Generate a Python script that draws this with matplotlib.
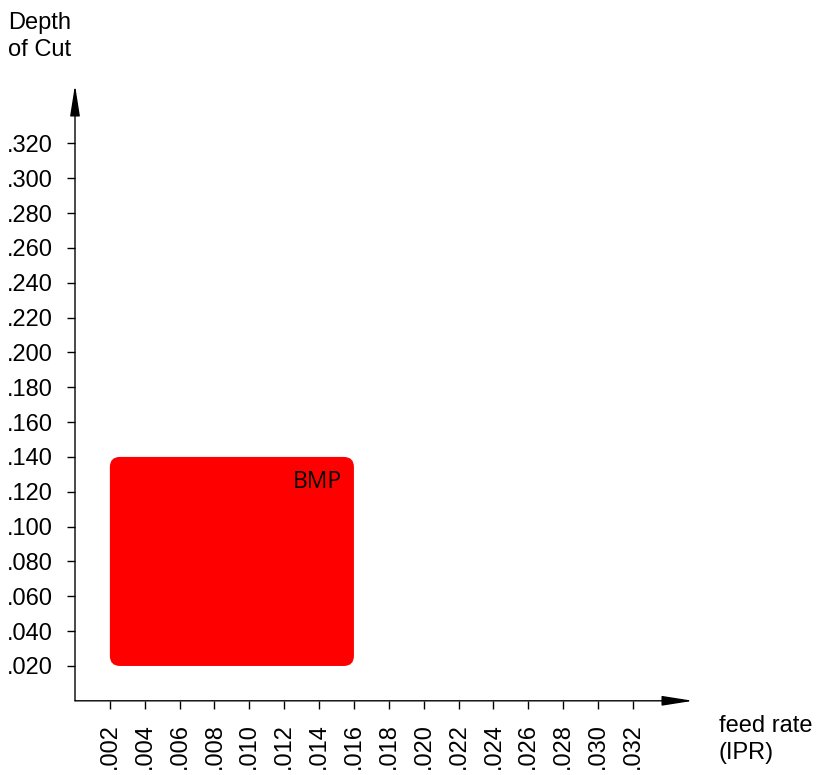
import matplotlib.pyplot as plt
from matplotlib.patches import FancyBboxPatch

plt.rcParams["font.family"] = ["Liberation Sans", "DejaVu Sans"]

# feed rate (IPR) ticks and depth-of-cut ticks
feed_ticks = [0.002, 0.004, 0.006, 0.008, 0.010, 0.012, 0.014, 0.016,
              0.018, 0.020, 0.022, 0.024, 0.026, 0.028, 0.030, 0.032]
depth_ticks = [0.020, 0.040, 0.060, 0.080, 0.100, 0.120, 0.140, 0.160,
               0.180, 0.200, 0.220, 0.240, 0.260, 0.280, 0.300, 0.320]

# BMP region: feed range and depth range
region_name = "BMP"
region_feed = [0.002, 0.016]
region_depth = [0.020, 0.140]

xmax = 0.03545
ymax = 0.3535

W, H = 825, 775
fig = plt.figure(figsize=(W / 100, H / 100), dpi=100)
ax = fig.add_axes([75 / W, (H - 700.8) / H, (693 - 75) / W, (700.8 - 85) / H])
ax.set_xlim(0, xmax)
ax.set_ylim(0, ymax)

for s in ax.spines.values():
    s.set_visible(False)

def fmt(v):
    return ("%.3f" % v)[1:]

ax.set_xticks(feed_ticks)
ax.set_xticklabels([fmt(v) for v in feed_ticks], rotation=90, fontsize=17)
ax.set_yticks(depth_ticks)
ax.set_yticklabels([fmt(v) for v in depth_ticks], fontsize=17)
ax.tick_params(direction="out", length=6, width=1, color="black", pad=10)

# axis arrows
arrow = dict(arrowstyle="-|>,head_length=0.95,head_width=0.15", color="black",
             lw=1, mutation_scale=20, shrinkA=0, shrinkB=0)
ax.annotate("", xy=(1, 0), xytext=(0, 0), xycoords="axes fraction",
            arrowprops=arrow, annotation_clip=False)
ax.annotate("", xy=(0, 1), xytext=(0, 0), xycoords="axes fraction",
            arrowprops=arrow, annotation_clip=False)

# region box with rounded corners
w = region_feed[1] - region_feed[0]
h = region_depth[1] - region_depth[0]
box = FancyBboxPatch((region_feed[0], region_depth[0]), w, h,
                     boxstyle="round,pad=0,rounding_size=0.00058",
                     mutation_aspect=10, facecolor="#ff0000", edgecolor="none")
ax.add_patch(box)
ax.text(region_feed[1] - 0.00068, region_depth[1] - 0.0075, region_name,
        ha="right", va="top", fontsize=16.5, family=["Open Sans", "DejaVu Sans"])

fig.text(8 / W, 1 - 12 / H, "Depth\nof Cut", ha="left", va="top",
         fontsize=17, linespacing=1.3)
fig.text(719 / W, 1 - 715 / H, "feed rate\n(IPR)", ha="left", va="top",
         fontsize=17, linespacing=1.3)

fig.savefig("out.png", dpi=100)
